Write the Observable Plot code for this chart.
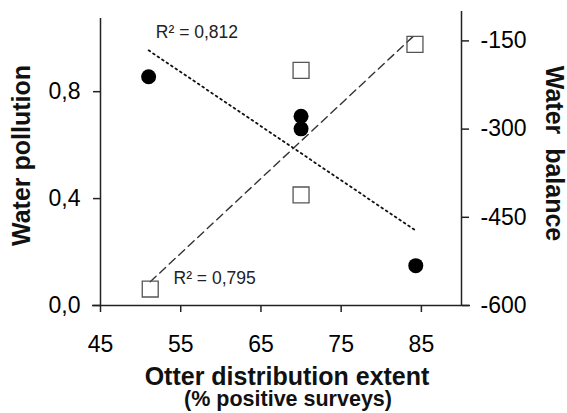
<!DOCTYPE html>
<html>
<head>
<meta charset="utf-8">
<script src="https://cdn.jsdelivr.net/npm/d3@7"></script>
<script src="https://cdn.jsdelivr.net/npm/@observablehq/plot@0.6"></script>
<style>
  html, body { margin: 0; padding: 0; background: #fff; }
  #chart svg { display: block; font-family: "Liberation Sans", Arial, sans-serif; }
</style>
</head>
<body>
<div id="chart"></div>
<script>
// Water pollution (left axis) – filled circles
const otterPollution = [51, 70, 70, 84.3];
const pollution = [0.856, 0.708, 0.661, 0.149];
// Water balance (right axis) – open squares
const otterBalance = [51.2, 70, 70, 84.2];
const balance = [-572, -200, -412, -156];

const xTicks = [45, 55, 65, 75, 85];
const pollutionTicks = [0, 0.4, 0.8];
const balanceTicks = [-600, -450, -300, -150];

const r2Labels = ["R\u00B2 = 0,812", "R\u00B2 = 0,795"];
const r2X = [51.9, 54.1];
const r2Y = [1.022, 0.10];

// dual-axis mapping: balance [-600, -100] -> pollution scale [0, 1.1]
const yMax = 1.1, bMin = -600, bMax = -100;
const toLeft = b => (b - bMin) / (bMax - bMin) * yMax;
const fromLeft = v => v / yMax * (bMax - bMin) + bMin;

const polData = otterPollution.map((x, i) => ({x, y: pollution[i]}));
const balData = otterBalance.map((x, i) => ({x, y: toLeft(balance[i])}));
const r2Data = r2Labels.map((t, i) => ({t, x: r2X[i], y: r2Y[i]}));

const axisColor = "#222";

const chart = Plot.plot({
  width: 567,
  height: 413,
  marginLeft: 100,
  marginRight: 106,
  marginTop: 11,
  marginBottom: 108,
  style: {fontFamily: "'Liberation Sans', Arial, sans-serif", background: "#fff"},
  x: {domain: [45, 90]},
  y: {domain: [0, yMax]},
  marks: [
    // axis lines
    Plot.ruleX([45], {y1: 0, y2: yMax, insetBottom: -7, stroke: axisColor, strokeWidth: 1.5}),
    Plot.ruleX([90], {y1: 0, y2: toLeft(-100), stroke: axisColor, strokeWidth: 1.5}),
    Plot.ruleY([0], {x1: 45, x2: 90, insetLeft: -8, insetRight: -9, stroke: axisColor, strokeWidth: 1.5}),
    // axes
    Plot.axisX(xTicks, {anchor: "bottom", tickSize: 7, tickPadding: 23, fontSize: 23, stroke: axisColor, strokeWidth: 1.5, label: null}),
    Plot.axisY(pollutionTicks, {anchor: "left", tickSize: 7, tickPadding: 13, fontSize: 23, stroke: axisColor, strokeWidth: 1.5,
      tickFormat: d => d.toFixed(1).replace(".", ","), label: null}),
    Plot.axisY(balanceTicks.map(toLeft), {anchor: "right", tickSize: 7, tickPadding: 12, fontSize: 23, stroke: axisColor, strokeWidth: 1.5,
      tickFormat: d => String(Math.round(fromLeft(d))), label: null}),
    // axis titles
    Plot.text(["Water pollution"], {frameAnchor: "left", textAnchor: "middle", lineAnchor: "middle", dx: -79, dy: -3, rotate: -90, fontSize: 25, fontWeight: "bold", fill: "#111"}),
    Plot.text(["Water  balance"], {frameAnchor: "right", textAnchor: "middle", lineAnchor: "middle", dx: 92, dy: -5, rotate: 90, fontSize: 25, fontWeight: "bold", fill: "#111"}),
    Plot.text(["Otter distribution extent"], {frameAnchor: "bottom", textAnchor: "middle", lineAnchor: "middle", dx: 6, dy: 71, fontSize: 25, fontWeight: "bold", fill: "#111"}),
    Plot.text(["(% positive surveys)"], {frameAnchor: "bottom", textAnchor: "middle", lineAnchor: "middle", dx: 7, dy: 94, fontSize: 21.5, fontWeight: "bold", fill: "#111"}),
    // regression lines
    Plot.linearRegressionY(polData, {x: "x", y: "y", ci: 0, stroke: "#111", strokeWidth: 1.8, strokeDasharray: "1.8,3.6"}),
    Plot.linearRegressionY(balData, {x: "x", y: "y", ci: 0, stroke: "#333", strokeWidth: 1.4, strokeDasharray: "8,5"}),
    // points
    Plot.dot(balData, {x: "x", y: "y", symbol: "square", r: 9, fill: "none", stroke: "#555", strokeWidth: 1.3}),
    Plot.dot(polData, {x: "x", y: "y", r: 7.5, fill: "#000", stroke: "none"}),
    // R² annotations
    Plot.text(r2Data, {x: "x", y: "y", text: "t", textAnchor: "start", fontSize: 17.5, fill: "#222"})
  ]
});
document.getElementById("chart").appendChild(chart);
</script>
</body>
</html>
